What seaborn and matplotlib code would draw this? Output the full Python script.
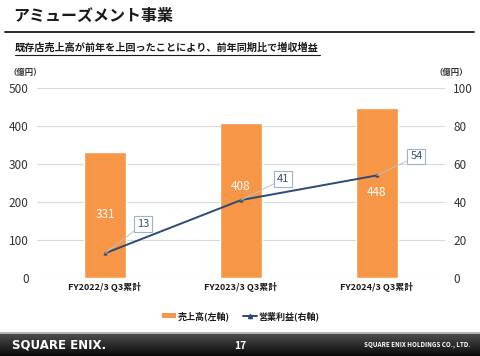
import numpy as np
import pandas as pd
import matplotlib
matplotlib.use("Agg")
import matplotlib.pyplot as plt
import seaborn as sns
from matplotlib.lines import Line2D
from matplotlib.patches import Patch

categories = ["FY2022/3 Q3累計", "FY2023/3 Q3累計", "FY2024/3 Q3累計"]
sales = [331, 408, 448]
op_income = [13, 41, 54]
left_ticks = [0, 100, 200, 300, 400, 500]
right_ticks = [0, 20, 40, 60, 80, 100]

sns.set_theme(style="white")
plt.rcParams['font.family'] = ['Noto Sans CJK JP', 'DejaVu Sans']

BAR = "#F79646"
LINE = "#2B4A74"
GRID = "#D9D9D9"
TXT = "#333333"

fig = plt.figure(figsize=(4.8, 3.56), dpi=100)
ax = fig.add_axes([37/480, 1-278/356, (445-37)/480, (278-88)/356])

df = pd.DataFrame({"cat": categories, "sales": sales, "op": op_income})
sns.barplot(data=df, x="cat", y="sales", color=BAR, saturation=1, width=0.31, ax=ax)
ax.set_xlim(-0.5, 2.5)
ax.set_ylim(0, 500)
ax.set_yticks(left_ticks)
ax.set_xlabel("")
ax.set_ylabel("")
ax.yaxis.grid(True, color=GRID, linewidth=0.8)
ax.set_axisbelow(True)
for s in ax.spines.values():
    s.set_visible(False)
ax.tick_params(axis="y", length=0, labelsize=8.5, colors=TXT, pad=6)
ax.tick_params(axis="x", length=0, labelsize=6.5, colors="#1A1A1A", pad=3)
for t in ax.get_xticklabels():
    t.set_fontweight("bold")

# bar value labels (white, inside)
bar_label_y = [166, 242, 224]
for i, v in enumerate(sales):
    ax.text(i, bar_label_y[i], str(v), color="white", ha="center", va="center",
            fontsize=8.5)

ax2 = ax.twinx()
xpos = np.arange(len(categories))
sns.lineplot(x=xpos, y=op_income, ax=ax2, color=LINE, linewidth=1.4,
             marker="^", markersize=3, markeredgewidth=0)
ax2.set_ylim(0, 100)
ax2.set_yticks(right_ticks)
ax2.set_xlim(-0.5, 2.5)
for s in ax2.spines.values():
    s.set_visible(False)
ax2.tick_params(axis="y", length=0, labelsize=8.5, colors=TXT, pad=6)
ax2.grid(False)

# line value labels in boxes with leader lines
box_pos = [(0.28, 28.4), (1.31, 52), (2.29, 64)]
for i, v in enumerate(op_income):
    bx, by = box_pos[i]
    ax2.annotate(str(v), xy=(i, v), xytext=(bx, by), ha="center", va="center",
                 fontsize=8, color="#3A5274",
                 bbox=dict(boxstyle="square,pad=0.25", fc="white", ec="#9DB2C8", lw=0.8),
                 arrowprops=dict(arrowstyle="-", color="#BFBFBF", lw=0.7,
                                 shrinkA=0, shrinkB=0))

# unit labels
fig.text(8/480, 1-72/356, "（億円）", fontsize=6, color=TXT, ha="left", va="center",
         fontweight="bold")
fig.text(468/480, 1-72/356, "（億円）", fontsize=6, color=TXT, ha="right", va="center",
         fontweight="bold")

# title and subtitle
fig.text(13/480, 1-16/356, "アミューズメント事業", fontsize=11.5, fontweight="bold",
         color="#1A1A1A", ha="left", va="center")
fig.add_artist(Line2D([5/480, 474/480], [1-32/356, 1-32/356], color="#1A1A1A", lw=1.3))
fig.text(15/480, 1-48/356, "既存店売上高が前年を上回ったことにより、前年同期比で増収増益",
         fontsize=7.3, fontweight="bold", color="#1A1A1A", ha="left", va="center")
fig.add_artist(Line2D([15/480, 320/480], [1-55/356, 1-55/356], color="#1A1A1A", lw=0.8))

# legend
handles = [Patch(facecolor=BAR, edgecolor="none"),
           Line2D([0], [0], color=LINE, lw=1.4, marker="^", markersize=3)]
leg = fig.legend(handles, ["売上高(左軸)", "営業利益(右軸)"], loc="center",
                 bbox_to_anchor=(241/480, 1-316/356), ncol=2, frameon=False,
                 fontsize=6.5, handlelength=1.5, handleheight=0.5, columnspacing=1.5,
                 handletextpad=0.2)
for t in leg.get_texts():
    t.set_fontweight("bold")
    t.set_color("#1A1A1A")

# footer band
fax = fig.add_axes([0, 0, 1, 22/356])
grad = np.linspace(0.30, 0.04, 50).reshape(-1, 1)
fax.imshow(grad, aspect="auto", cmap="gray", vmin=0, vmax=1, extent=[0, 1, 0, 1])
fax.set_axis_off()
fig.add_artist(Line2D([0, 1], [23/356, 23/356], color="#A6A6A6", lw=1.2))
fig.text(12/480, 1-345/356, "SQUARE ENIX.", fontsize=8.5, fontweight="bold",
         color="white", ha="left", va="center", family="DejaVu Sans")
fig.text(240/480, 1-346/356, "17", fontsize=7.5, fontweight="bold",
         color="white", ha="center", va="center")
fig.text(470/480, 1-345/356, "SQUARE ENIX HOLDINGS CO., LTD.", fontsize=4.5,
         fontweight="bold", color="white", ha="right", va="center")

fig.savefig("out.png", dpi=100)
